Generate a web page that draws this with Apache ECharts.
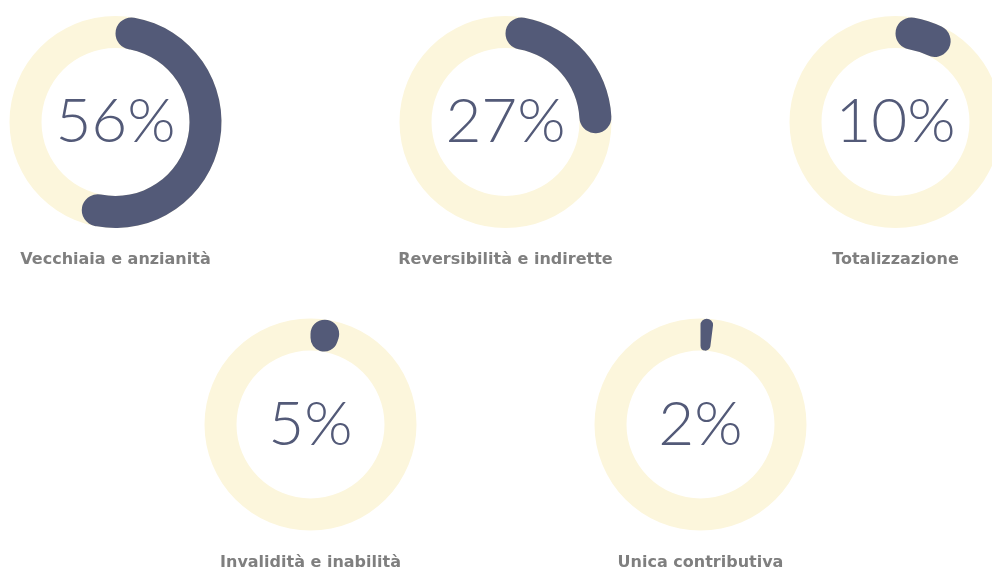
<!DOCTYPE html>
<html>
<head>
<meta charset="utf-8">
<script src="https://cdn.jsdelivr.net/npm/echarts@6/dist/echarts.min.js"></script>
<style>
  html, body { margin: 0; padding: 0; background: #fff; }
  #main { width: 992px; height: 572px; }
</style>
</head>
<body>
<div id="main"></div>
<script>
// categorie e percentuali
const categories = ['Vecchiaia e anzianità', 'Reversibilità e indirette', 'Totalizzazione', 'Invalidità e inabilità', 'Unica contributiva'];
const values = [56, 27, 10, 5, 2];
// posizione dei cerchi (px)
const centers = [[115.5, 122], [505.5, 122], [895.5, 122], [310.5, 424.5], [700.5, 424.5]];

const DARK = '#535a78';
const LIGHT = '#fcf6dc';

const chart = echarts.init(document.getElementById('main'), null, { renderer: 'canvas' });

let series = [];
categories.forEach(function (name, i) {
  // anello di sfondo + testi
  series.push({
    type: 'gauge',
    center: centers[i],
    radius: 106,
    startAngle: 90,
    endAngle: -270,
    min: 0,
    max: 100,
    pointer: { show: false },
    axisLine: { lineStyle: { width: 32, color: [[1, LIGHT]] } },
    progress: { show: false },
    axisTick: { show: false },
    splitLine: { show: false },
    axisLabel: { show: false },
    anchor: { show: false },
    title: {
      offsetCenter: [0, 138],
      color: '#7f7f7f',
      fontSize: 16,
      fontWeight: 'bold',
      fontFamily: 'DejaVu Sans'
    },
    detail: {
      offsetCenter: [0, 0],
      formatter: '{value}%',
      color: DARK,
      fontSize: 62,
      fontWeight: 300,
      fontFamily: 'Lato'
    },
    data: [{ value: values[i], name: name }]
  });
  // arco del valore
  series.push({
    type: 'pie',
    center: centers[i],
    radius: [74, 106],
    startAngle: 90,
    clockwise: true,
    silent: true,
    label: { show: false },
    labelLine: { show: false },
    emphasis: { disabled: true },
    data: [
      { value: values[i], itemStyle: { color: DARK, borderRadius: 16 } },
      { value: 100 - values[i], itemStyle: { color: 'transparent' } }
    ]
  });
});

chart.setOption({
  animation: false,
  series: series
});
</script>
</body>
</html>
